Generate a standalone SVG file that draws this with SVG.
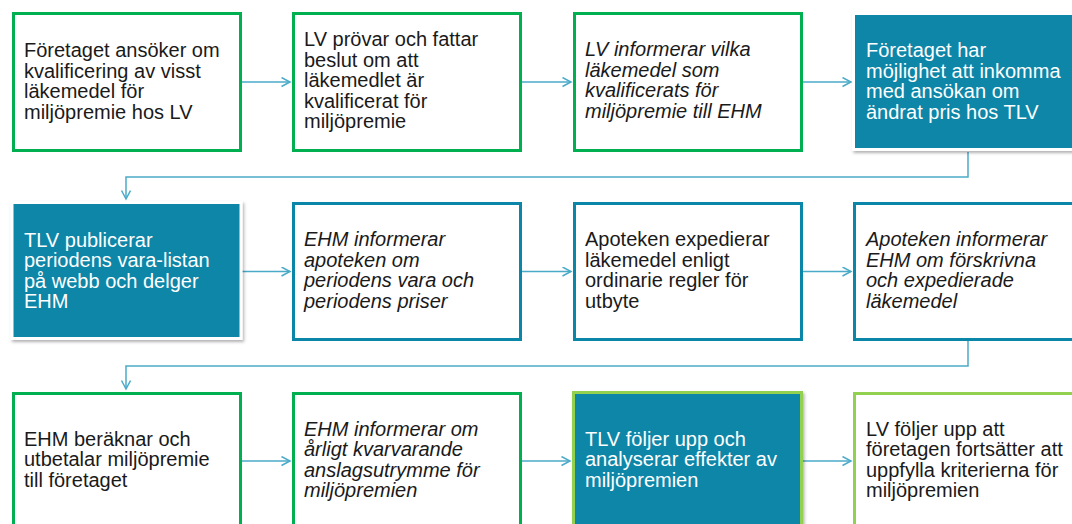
<svg xmlns="http://www.w3.org/2000/svg" width="1072" height="524" viewBox="0 0 1072 524">
<defs>
<style>
.t{font-family:"Liberation Sans",Arial,sans-serif;font-size:20px;fill:#1a1a1a}
.i{font-style:italic}
.w{fill:#ffffff}
.bg{fill:#ffffff;stroke:#00b050;stroke-width:3}
.bb{fill:#ffffff;stroke:#0a86a8;stroke-width:3}
.bt{fill:#0a86a8;stroke:#ffffff;stroke-width:3}
.btl{fill:#0a86a8;stroke:#92d050;stroke-width:3}
.bl{fill:#ffffff;stroke:#92d050;stroke-width:3}
.c{fill:none;stroke:#4aaac8;stroke-width:1.5}
</style>
<marker id="ah" markerUnits="userSpaceOnUse" markerWidth="12" markerHeight="12" refX="9" refY="5" orient="auto">
<path d="M0.5,0.5 L9,5 L0.5,9.5" fill="none" stroke="#4aaac8" stroke-width="1.5"/>
</marker>
<filter id="sh" x="-10%" y="-10%" width="125%" height="125%">
<feDropShadow dx="1.5" dy="2" stdDeviation="1.5" flood-color="#000000" flood-opacity="0.3"/>
</filter>
</defs>
<rect width="1072" height="524" fill="#ffffff"/>
<g id="connectors">
<path class="c" d="M242,82 H290" marker-end="url(#ah)"/>
<path class="c" d="M522,82 H571" marker-end="url(#ah)"/>
<path class="c" d="M803,82 H851" marker-end="url(#ah)"/>
<path class="c" d="M968,152 V177 H126 V199" marker-end="url(#ah)"/>
<path class="c" d="M242,271.5 H290" marker-end="url(#ah)"/>
<path class="c" d="M522,271.5 H571" marker-end="url(#ah)"/>
<path class="c" d="M803,271.5 H851" marker-end="url(#ah)"/>
<path class="c" d="M968,341 V366 H126 V389" marker-end="url(#ah)"/>
<path class="c" d="M242,461 H290" marker-end="url(#ah)"/>
<path class="c" d="M522,461 H570" marker-end="url(#ah)"/>
<path class="c" d="M803,461 H851" marker-end="url(#ah)"/>
</g>
<g id="n1">
<rect class="bg" x="13.5" y="13.5" width="227" height="137"/>
<text class="t" x="24" y="57"><tspan x="24">Företaget ansöker om</tspan><tspan x="24" dy="20.6">kvalificering av visst</tspan><tspan x="24" dy="20.6">läkemedel för</tspan><tspan x="24" dy="20.6">miljöpremie hos LV</tspan></text>
</g>
<g id="n2">
<rect class="bg" x="293.5" y="13.5" width="227" height="137"/>
<text class="t" x="304" y="46"><tspan x="304">LV prövar och fattar</tspan><tspan x="304" dy="20.6">beslut om att</tspan><tspan x="304" dy="20.6">läkemedlet är</tspan><tspan x="304" dy="20.6">kvalificerat för</tspan><tspan x="304" dy="20.6">miljöpremie</tspan></text>
</g>
<g id="n3">
<rect class="bg" x="574.5" y="13.5" width="227" height="137"/>
<text class="t i" x="585" y="56"><tspan x="585">LV informerar vilka</tspan><tspan x="585" dy="20.6">läkemedel som</tspan><tspan x="585" dy="20.6">kvalificerats för</tspan><tspan x="585" dy="20.6">miljöpremie till EHM</tspan></text>
</g>
<g id="n4">
<rect class="bt" x="853.5" y="13.5" width="227" height="136" filter="url(#sh)"/>
<text class="t w" x="866" y="57"><tspan x="866">Företaget har</tspan><tspan x="866" dy="20.6">möjlighet att inkomma</tspan><tspan x="866" dy="20.6">med ansökan om</tspan><tspan x="866" dy="20.6">ändrat pris hos TLV</tspan></text>
</g>
<g id="n5">
<rect class="bt" x="12" y="202.5" width="229" height="136" filter="url(#sh)"/>
<text class="t w" x="24" y="246.5"><tspan x="24">TLV publicerar</tspan><tspan x="24" dy="20.6">periodens vara-listan</tspan><tspan x="24" dy="20.6">på webb och delger</tspan><tspan x="24" dy="20.6">EHM</tspan></text>
</g>
<g id="n6">
<rect class="bb" x="293.5" y="203.5" width="227" height="136"/>
<text class="t i" x="304" y="246"><tspan x="304">EHM informerar</tspan><tspan x="304" dy="20.6">apoteken om</tspan><tspan x="304" dy="20.6">periodens vara och</tspan><tspan x="304" dy="20.6">periodens priser</tspan></text>
</g>
<g id="n7">
<rect class="bb" x="574.5" y="203.5" width="227" height="136"/>
<text class="t" x="585" y="246"><tspan x="585">Apoteken expedierar</tspan><tspan x="585" dy="20.6">läkemedel enligt</tspan><tspan x="585" dy="20.6">ordinarie regler för</tspan><tspan x="585" dy="20.6">utbyte</tspan></text>
</g>
<g id="n8">
<rect class="bb" x="854.5" y="203.5" width="227" height="136"/>
<text class="t i" x="866" y="246"><tspan x="866">Apoteken informerar</tspan><tspan x="866" dy="20.6">EHM om förskrivna</tspan><tspan x="866" dy="20.6">och expedierade</tspan><tspan x="866" dy="20.6">läkemedel</tspan></text>
</g>
<g id="n9">
<rect class="bg" x="13.5" y="393.5" width="227" height="137"/>
<text class="t" x="24" y="445.5"><tspan x="24">EHM beräknar och</tspan><tspan x="24" dy="20.6">utbetalar miljöpremie</tspan><tspan x="24" dy="20.6">till företaget</tspan></text>
</g>
<g id="n10">
<rect class="bg" x="293.5" y="393.5" width="227" height="137"/>
<text class="t i" x="304" y="435.5"><tspan x="304">EHM informerar om</tspan><tspan x="304" dy="20.6">årligt kvarvarande</tspan><tspan x="304" dy="20.6">anslagsutrymme för</tspan><tspan x="304" dy="20.6">miljöpremien</tspan></text>
</g>
<g id="n11">
<rect class="btl" x="573.5" y="392.5" width="228" height="137" filter="url(#sh)"/>
<text class="t w" x="585" y="445.5"><tspan x="585">TLV följer upp och</tspan><tspan x="585" dy="20.6">analyserar effekter av</tspan><tspan x="585" dy="20.6">miljöpremien</tspan></text>
</g>
<g id="n12">
<rect class="bl" x="854.5" y="393.5" width="227" height="137"/>
<text class="t" x="866" y="435.5"><tspan x="866">LV följer upp att</tspan><tspan x="866" dy="20.6">företagen fortsätter att</tspan><tspan x="866" dy="20.6">uppfylla kriterierna för</tspan><tspan x="866" dy="20.6">miljöpremien</tspan></text>
</g>
</svg>
